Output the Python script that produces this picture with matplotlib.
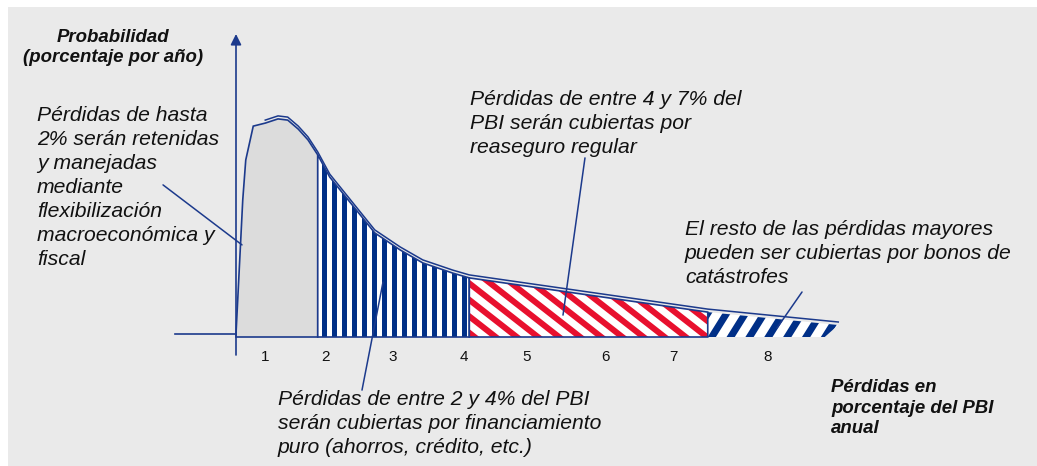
import numpy as np
import matplotlib.pyplot as plt
from matplotlib.patches import Polygon, Rectangle
from matplotlib.collections import LineCollection

plt.rcParams["font.family"] = ["Liberation Sans", "DejaVu Sans"]

W, H, DPI = 1037, 466, 100

# loss distribution (x: loss, y: probability)
curve_x = [0.0, 0.09, 0.13, 0.23, 0.39, 0.56, 0.69, 0.83, 0.96, 1.09,
           1.25, 1.55, 1.85, 2.19, 2.49, 2.89, 3.11, 6.29, 8.03]
curve_y = [0.0, 0.447, 0.58, 0.693, 0.703, 0.717, 0.713, 0.683, 0.647, 0.597,
           0.523, 0.43, 0.337, 0.28, 0.237, 0.203, 0.187, 0.073, 0.03]
bounds = [0.0, 1.09, 3.11, 6.29, 8.03]
tick_pos = [0.39, 1.2, 2.09, 3.04, 3.87, 4.93, 5.83, 7.09]
tick_labels = ["1", "2", "3", "4", "5", "6", "7", "8"]

NAVY = "#1c3a8c"
STRIPE_BLUE = "#002f87"
RED = "#e8102e"
GRAY = "#dcdcdc"
BG = "#eaeaea"


def region(a, b):
    xs = np.array(curve_x)
    ys = np.array(curve_y)
    inner = (xs > a) & (xs < b)
    top_x = np.concatenate([[a], xs[inner], [b]])
    top_y = np.interp(top_x, xs, ys)
    pts = list(zip(top_x, top_y))
    pts += [(b, -0.01), (a, -0.01)]
    return pts


def add_stripes(ax, patch, angle, period, width, color, phase=0.0):
    pts = ax.transData.transform(patch.get_xy())
    c0 = pts.mean(axis=0)
    span = np.hypot(*(pts.max(0) - pts.min(0)))
    d = np.array([np.cos(np.radians(angle)), np.sin(np.radians(angle))])
    nrm = np.array([-d[1], d[0]])
    segs = []
    n = int(span / period) + 2
    inv = ax.transData.inverted()
    for k in range(-n, n + 1):
        c = c0 + nrm * (k * period + phase)
        segs.append(inv.transform([c - d * span, c + d * span]))
    lc = LineCollection(segs, colors=color, linewidths=width * 72 / DPI,
                        capstyle="butt", zorder=patch.get_zorder() + 0.1)
    lc.set_clip_path(patch)
    ax.add_collection(lc)


fig = plt.figure(figsize=(W / DPI, H / DPI), dpi=DPI, facecolor="white")
fig.patches.append(Rectangle((8 / W, 0), 1, 1 - 7 / H, transform=fig.transFigure,
                             facecolor=BG, edgecolor="none", zorder=-5))
ax = fig.add_axes([0, 0, 1, 1])
ax.set_facecolor("none")
ax.set_xlim(-236 / 75, (W - 236) / 75)
ax.set_ylim(-132 / 300, 334 / 300)
ax.axis("off")

# axes: baseline and vertical arrow
ax.plot([-0.81, 0.0], [0, 0], color=NAVY, lw=1.2, zorder=3)
ax.annotate("", xy=(0, 1.0), xytext=(0, -0.07),
            arrowprops=dict(arrowstyle="-|>", color=NAVY, lw=1.2,
                            mutation_scale=16, shrinkA=0, shrinkB=0), zorder=3)

# 0-2%: retained
p0 = Polygon(region(bounds[0], bounds[1]), closed=True, facecolor=GRAY,
             edgecolor=NAVY, lw=1.2, zorder=2)
ax.add_patch(p0)

# 2-4%: vertical stripes
p1 = Polygon(region(bounds[1], bounds[2]), closed=True, facecolor="white",
             edgecolor="none", zorder=2)
ax.add_patch(p1)
add_stripes(ax, p1, 90, 10, 5, STRIPE_BLUE, phase=0.0)
ax.add_patch(Polygon(region(bounds[1], bounds[2]), closed=True, facecolor="none",
                     edgecolor=NAVY, lw=1.2, zorder=2.5))

# 4-7%: red diagonal stripes
p2 = Polygon(region(bounds[2], bounds[3]), closed=True, facecolor="white",
             edgecolor="none", zorder=2)
ax.add_patch(p2)
add_stripes(ax, p2, -38, 13, 6, RED)
ax.add_patch(Polygon(region(bounds[2], bounds[3]), closed=True, facecolor="none",
                     edgecolor=NAVY, lw=1.2, zorder=2.5))

# >7%: catastrophe bonds
cat = region(bounds[3], bounds[4])
cat[-2] = (bounds[4] - 0.18, -0.01)
p3 = Polygon(cat, closed=True, facecolor="white", edgecolor="none", zorder=2)
ax.add_patch(p3)
add_stripes(ax, p3, 58, 16, 7, STRIPE_BLUE)

# outer outline of the curve
ox = np.array(curve_x[4:])
oy = np.array(curve_y[4:]) + 0.01
ax.plot(ox, oy, color=NAVY, lw=1.1, zorder=3)

for pos, lab in zip(tick_pos, tick_labels):
    ax.text(pos, -0.09, lab, ha="center", va="baseline", fontsize=11, color="#111111")

# leader lines
leaders = [((-0.973, 0.497), (0.08, 0.297)),
           ((4.653, 0.587), (4.36, 0.063)),
           ((7.547, 0.14), (7.213, 0.02)),
           ((1.68, -0.187), (1.96, 0.173))]
for start, end in leaders:
    ax.annotate("", xy=end, xytext=start,
                arrowprops=dict(arrowstyle="-", color=NAVY, lw=1.1,
                                shrinkA=0, shrinkB=0), zorder=4)


def ftext(x, y, s, step, ha="left", **kw):
    # y is the first baseline; matplotlib anchors the last one
    y_last = y + step * s.count("\n")
    fig.text(x / W, 1 - y_last / H, s, va="baseline", ha=ha, color="#111111", **kw)


note = dict(fontsize=15.2, style="italic", linespacing=1.335)
ftext(37, 115, "Pérdidas de hasta\n2% serán retenidas\ny manejadas\nmediante\n"
      "flexibilización\nmacroeconómica y\nfiscal", 25, **note)
ftext(470, 103, "Pérdidas de entre 4 y 7% del\nPBI serán cubiertas por\nreaseguro regular", 25, **note)
ftext(685, 235, "El resto de las pérdidas mayores\npueden ser cubiertas por bonos de\ncatástrofes", 24, **note)
ftext(278, 405, "Pérdidas de entre 2 y 4% del PBI\nserán cubiertas por financiamiento\n"
      "puro (ahorros, crédito, etc.)", 24, **note)

bold = dict(fontsize=13.4, style="italic", weight="bold", linespacing=1.25)
ftext(113, 41, "Probabilidad\n(porcentaje por año)", 21, ha="center",
      multialignment="center", **bold)
ftext(831, 391, "Pérdidas en\nporcentaje del PBI\nanual", 21, **bold)

fig.savefig("out.png", dpi=DPI, facecolor="white")
